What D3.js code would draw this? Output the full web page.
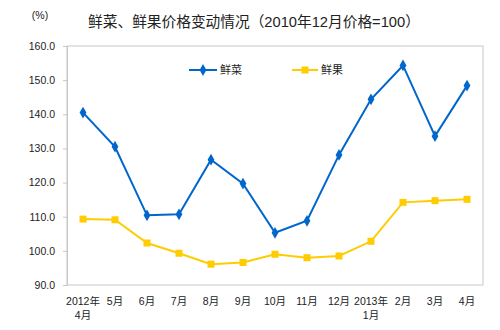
<!DOCTYPE html>
<html><head><meta charset="utf-8">
<script src="https://cdn.jsdelivr.net/npm/d3@7"></script>
<style>body{margin:0;background:#fff}svg{display:block}</style>
</head><body>
<script>
const months = [["2012年","4月"],["5月"],["6月"],["7月"],["8月"],["9月"],["10月"],["11月"],["12月"],["2013年","1月"],["2月"],["3月"],["4月"]];
const vegetables = [140.5,130.5,110.4,110.7,126.7,119.7,105.3,108.8,128.1,144.4,154.3,133.6,148.4];
const fruits = [109.3,109.1,102.3,99.3,96.1,96.6,99.0,98.0,98.5,102.8,114.2,114.7,115.1];
const yTicks = [90,100,110,120,130,140,150,160];
const seriesNames = ["鲜菜","鲜果"];
const colors = ["#0066CC","#FFCC00"];

const W=500,H=330;
const svg=d3.select("body").append("svg").attr("width",W).attr("height",H);
const L=67,R=483,T=46,B=285;
const x=d3.scaleBand().domain(d3.range(months.length)).range([L,R]);
const y=d3.scaleLinear().domain([90,160]).range([B,T]);
const font="'Liberation Sans', 'Noto Sans CJK SC', sans-serif";

svg.append("text").attr("x",254).attr("y",27).attr("text-anchor","middle")
  .attr("font-family",font).attr("font-size",14.7).attr("fill","#222")
  .text("鲜菜、鲜果价格变动情况（2010年12月价格=100）");
svg.append("text").attr("x",40).attr("y",19).attr("text-anchor","middle")
  .attr("font-family",font).attr("font-size",10.5).attr("fill","#222").text("(%)");

svg.append("rect").attr("x",L).attr("y",T).attr("width",R-L).attr("height",B-T)
  .attr("fill","none").attr("stroke","#c8c8c8").attr("stroke-width",1);

const ya=svg.append("g").attr("transform",`translate(${L},0)`)
  .call(d3.axisLeft(y).tickValues(yTicks).tickFormat(d3.format(".1f")).tickSize(4).tickPadding(8));
ya.select(".domain").attr("stroke","#c8c8c8");
ya.selectAll(".tick line").attr("stroke","#c8c8c8");
ya.selectAll("text").attr("font-family",font).attr("font-size",10.5).attr("fill","#222");

const xg=svg.append("g");
months.forEach((m,i)=>{
  const t=xg.append("text").attr("x",x(i)+x.bandwidth()/2).attr("y",305).attr("text-anchor","middle")
    .attr("font-family",font).attr("font-size",10.5).attr("fill","#222");
  m.forEach((s,j)=>t.append("tspan").attr("x",x(i)+x.bandwidth()/2).attr("dy",j?13.5:0).text(s));
});

const cx=i=>x(i)+x.bandwidth()/2;
const line=d3.line().x((d,i)=>cx(i)).y(d=>y(d));
svg.append("path").datum(fruits).attr("d",line).attr("fill","none").attr("stroke",colors[1]).attr("stroke-width",2);
svg.selectAll(".fm").data(fruits).enter().append("rect")
  .attr("x",(d,i)=>cx(i)-3.5).attr("y",d=>y(d)-3.5).attr("width",7).attr("height",7).attr("fill",colors[1]);
svg.append("path").datum(vegetables).attr("d",line).attr("fill","none").attr("stroke",colors[0]).attr("stroke-width",2);
const dia=d3.symbol().type(d3.symbolDiamond).size(40);
svg.selectAll(".vm").data(vegetables).enter().append("path")
  .attr("d",dia).attr("transform",(d,i)=>`translate(${cx(i)},${y(d)})`).attr("fill",colors[0]);

// legend
const lg=[{x1:189,x2:217,tx:220},{x1:292,x2:318,tx:321}];
lg.forEach((l,k)=>{
  svg.append("line").attr("x1",l.x1).attr("x2",l.x2).attr("y1",70).attr("y2",70).attr("stroke",colors[k]).attr("stroke-width",2);
  if(k===0) svg.append("path").attr("d",dia).attr("transform",`translate(${(l.x1+l.x2)/2},70)`).attr("fill",colors[0]);
  else svg.append("rect").attr("x",(l.x1+l.x2)/2-3.5).attr("y",66.5).attr("width",7).attr("height",7).attr("fill",colors[1]);
  svg.append("text").attr("x",l.tx).attr("y",74).attr("font-family",font).attr("font-size",11).attr("fill","#222").text(seriesNames[k]);
});
</script>
</body></html>
